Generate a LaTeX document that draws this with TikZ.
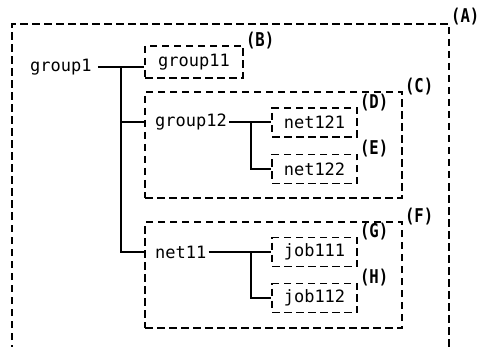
\documentclass[tikz,border=0pt]{standalone}
\usepackage{fontspec}
\setmainfont{DejaVu Sans Mono}
\newfontfamily\lblfont{DejaVu Sans Mono}[FakeStretch=0.82]
\begin{document}
\begin{tikzpicture}[x=1pt,y=-1pt,
  dbox/.style={draw,dash pattern=on 7.5pt off 4.5pt,line width=1.6pt,inner sep=0pt},
  txt/.style={font=\fontsize{17}{19}\selectfont,inner sep=2pt},
  lbl/.style={font=\lblfont\bfseries\fontsize{19}{21}\selectfont,inner sep=0pt,anchor=west},
  conn/.style={line width=1.6pt}]
\useasboundingbox (0,0) rectangle (481,347);
% outer box A (open at bottom)
\draw[dbox] (12,352) -- (12,24) -- (449,24) -- (449,352);
\node[lbl] (lA) at (451,17) {(A)};
% group1
\node[txt,anchor=west] (g1) at (28,67) {group1};
% B
\node[dbox,minimum width=98pt,minimum height=32pt] (B) at (194,62) {};
\node[txt] (g11) at (B.center) {group11};
\node[lbl] (lB) at ([xshift=2pt,yshift=5pt]B.north east) {(B)};
% C
\node[dbox,minimum width=257pt,minimum height=106pt] (C) at (273.5,145) {};
\node[lbl] (lC) at ([xshift=2pt,yshift=5pt]C.north east) {(C)};
\node[txt,anchor=west] (g12) at (153,122) {group12};
\node[dbox,minimum width=85pt,minimum height=29pt] (D) at (314.5,122.5) {};
\node[txt] (n121) at (D.center) {net121};
\node[lbl] (lD) at ([xshift=2pt,yshift=5pt]D.north east) {(D)};
\node[dbox,minimum width=85pt,minimum height=29pt] (E) at (314.5,169) {};
\node[txt] (n122) at (E.center) {net122};
\node[lbl] (lE) at ([xshift=2pt,yshift=5pt]E.north east) {(E)};
% F
\node[dbox,minimum width=257pt,minimum height=106pt] (F) at (273.5,275) {};
\node[lbl] (lF) at ([xshift=2pt,yshift=5pt]F.north east) {(F)};
\node[txt,anchor=west] (n11) at (153,252) {net11};
\node[dbox,minimum width=85pt,minimum height=29pt] (G) at (314.5,252) {};
\node[txt] (j111) at (G.center) {job111};
\node[lbl] (lG) at ([xshift=2pt,yshift=5pt]G.north east) {(G)};
\node[dbox,minimum width=85pt,minimum height=29pt] (H) at (314.5,298) {};
\node[txt] (j112) at (H.center) {job112};
\node[lbl] (lH) at ([xshift=2pt,yshift=5pt]H.north east) {(H)};
% connectors
\coordinate (t1) at (121,67);
\coordinate (t2) at (251,122);
\coordinate (t3) at (251,252);
\draw[conn] ([xshift=4pt]g1.east) -- (B.west|-g1);
\draw[conn] (t1) |- (F.west|-n11);
\draw[conn] (t1|-g12) -- (C.west|-g12);
\draw[conn] (g12.east) -- (D.west|-g12);
\draw[conn] (t2) |- (E.west);
\draw[conn] (n11.east) -- (G.west|-n11);
\draw[conn] (t3) |- (H.west);
\end{tikzpicture}
\end{document}
